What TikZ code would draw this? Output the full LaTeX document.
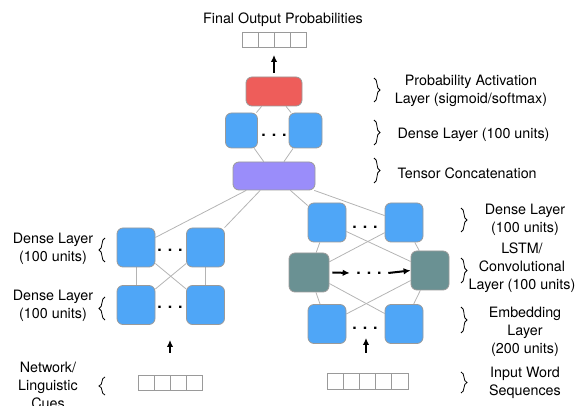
\documentclass[tikz,border=0pt]{standalone}
\usepackage{fontspec}
\setmainfont{TeX Gyre Heros}
\usepackage{xcolor}
\usetikzlibrary{
    decorations.pathreplacing,
    arrows,
    arrows.meta,
    backgrounds,
    positioning
}
\definecolor{unitblue}{HTML}{4FA6F7}
\definecolor{sigmred}{HTML}{EE5D5A}
\definecolor{concatpurple}{HTML}{9A8DFA}
\definecolor{lstmteal}{HTML}{6A9193}
\definecolor{boxgray}{HTML}{9A9A9A}
\definecolor{linkgray}{HTML}{B4B4B4}

\begin{document}
\begin{tikzpicture}[x=1pt, y=-1pt,
    unit/.style={draw=boxgray, line width=0.8pt, fill=unitblue, rounded corners=6pt, minimum width=38pt, minimum height=39pt, inner sep=0pt},
    cell/.style={draw=boxgray, line width=0.8pt, minimum width=16pt, minimum height=15pt, inner sep=0pt},
    link/.style={draw=linkgray, line width=0.8pt},
    flow/.style={-{Latex[length=7pt, width=6.5pt]}, line width=2pt},
    grp/.style={decorate, decoration={brace, amplitude=6pt}, line width=0.8pt},
    lbl/.style={align=center, font=\fontsize{14.3}{18}\selectfont},
    gap/.style={font=\fontsize{16}{16}\selectfont\bfseries}
]
                        \useasboundingbox (0, 0) rectangle (579, 406);

                        % output part
                        \node[lbl] (title) at (283, 20) {Final Output Probabilities};
                        \foreach \i in {0,...,3}
                            \node[cell] (prob\i) at (250 + 16*\i, 40) {};
                        \node[unit, fill=sigmred, minimum width=56pt, minimum height=29pt] (sigm) at (274, 91.5) {};
                        \node[unit, minimum width=32pt, minimum height=35pt] (fc1) at (241.5, 130.5) {};
                        \node[unit, minimum width=33pt, minimum height=35pt] (fc2) at (305.5, 130.5) {};
                        \node[gap] (fcdots) at (274, 135) {. . .};
                        \node[unit, fill=concatpurple, minimum width=82pt, minimum height=28pt] (concat) at (274, 176) {};

                        % cues branch
                        \node[unit] (cueA1) at (136, 247.5) {};
                        \node[unit] (cueA2) at (205.5, 247.5) {};
                        \node[gap] (cueAdots) at (170, 250) {. . .};
                        \node[unit] (cueB1) at (136, 305) {};
                        \node[unit] (cueB2) at (205.5, 305) {};
                        \node[gap] (cueBdots) at (170, 307) {. . .};
                        \foreach \i in {0,...,3}
                            \node[cell] (cue\i) at (146 + 16.25*\i, 383) {};

                        % word branch
                        \node[unit] (seqD1) at (327, 222.5) {};
                        \node[unit] (seqD2) at (404, 222.5) {};
                        \node[gap] (seqDdots) at (365, 227) {. . .};
                        \node[unit, fill=lstmteal, minimum width=40pt] (lstm1) at (309, 272.5) {};
                        \node[unit, fill=lstmteal] (lstm2) at (430, 270.5) {};
                        \node[gap, inner xsep=6.5pt] (lstmdots) at (369, 273) {. . .};
                        \node[unit] (emb1) at (327, 324) {};
                        \node[unit] (emb2) at (404, 324) {};
                        \node[gap] (embdots) at (365, 328) {. . .};
                        \foreach \i in {0,...,4}
                            \node[cell, minimum width=16.2pt, minimum height=16pt] (word\i) at (335 + 16.2*\i, 381) {};

                        % grey links behind the units
                        \begin{scope}[on background layer]
                            \draw[link] (sigm) -- (fc1) (sigm) -- (fc2) (fc1) -- (concat) (fc2) -- (concat);
                            \draw[link] (concat) -- (cueA1) (concat) -- (cueA2) (concat) -- (seqD1) (concat) -- (seqD2);
                            \foreach \a in {1,2}
                                \foreach \b in {1,2} {
                                    \draw[link] (cueA\a) -- (cueB\b);
                                    \draw[link] (seqD\a) -- (lstm\b);
                                    \draw[link] (lstm\a) -- (emb\b);
                                }
                        \end{scope}

                        % arrows
                        \coordinate (probin) at (274, 55);
                        \coordinate (cuefrom) at (170, 353);
                        \coordinate (cueto) at (170, 340);
                        \coordinate (wordfrom) at (366, 353);
                        \coordinate (wordto) at (366, 338);
                        \draw[flow] ([yshift=4pt]sigm.north) -- (probin);
                        \draw[flow] (cuefrom) -- (cueto);
                        \draw[flow] (wordfrom) -- (wordto);
                        \draw[flow] ([xshift=3pt]lstm1.east) -- (lstmdots.west);
                        \draw[flow] (lstmdots.east) -- (lstm2.west);

                        % braces
                        \draw[grp] (374, 78) -- (374, 102);
                        \draw[grp] (374, 120) -- (374, 145);
                        \draw[grp] (374, 158) -- (374, 183);
                        \draw[grp] (461, 208) -- (461, 232);
                        \draw[grp] (461, 258) -- (461, 283);
                        \draw[grp] (461, 307) -- (461, 333);
                        \draw[grp] (461, 372) -- (461, 393);
                        \draw[grp] (105, 262) -- (105, 238);
                        \draw[grp] (105, 320) -- (105, 297);
                        \draw[grp] (105, 395) -- (105, 377);

                        % labels
                        \node[lbl] (sigmlbl) at (471, 91) {Probability Activation\\Layer (sigmoid/softmax)};
                        \node[lbl, anchor=west] (fclbl) at (394, 135) {Dense Layer (100 units)};
                        \node[lbl, anchor=west] (concatlbl) at (394, 173) {Tensor Concatenation};
                        \node[lbl] (cueAlbl) at (53, 249) {Dense Layer\\(100 units)};
                        \node[lbl] (cueBlbl) at (53, 306) {Dense Layer\\(100 units)};
                        \node[lbl] (cuelbl) at (48, 385) {Network/\\Linguistic\\Cues};
                        \node[lbl] (seqDlbl) at (525, 220) {Dense Layer\\(100 units)};
                        \node[lbl] (lstmlbl) at (522, 268) {LSTM/\\Convolutional\\Layer (100 units)};
                        \node[lbl] (emblbl) at (525, 332) {Embedding\\Layer\\(200 units)};
                        \node[lbl] (wordlbl) at (525, 383) {Input Word\\Sequences};
                    \end{tikzpicture}
\end{document}
